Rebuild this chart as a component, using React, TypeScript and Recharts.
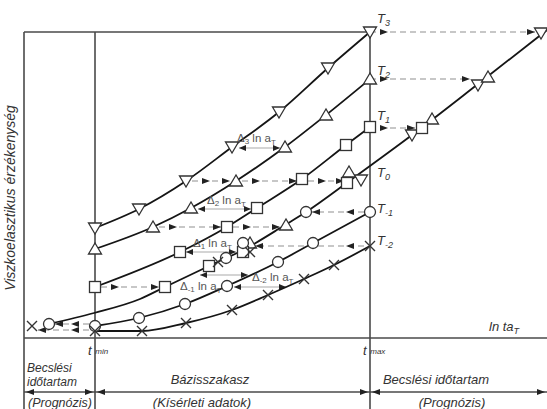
import React from "react";
import {
  ComposedChart,
  Line,
  Scatter,
  XAxis,
  YAxis,
  ReferenceLine,
  ReferenceDot,
} from "recharts";

// ln t (arbitrary units) and viscoelastic response
const tMin = 7.1;
const tMax = 34.6;

const t3X = [7.1, 11.5, 16.2, 20.8, 25.5, 30.4, 34.6];
const t3Y = [11.0, 12.9, 15.7, 19.1, 22.6, 27.0, 30.6];
const t2X = [7.1, 12.9, 16.7, 21.2, 26.1, 30.2, 34.6];
const t2Y = [8.9, 11.1, 13.0, 15.7, 19.1, 22.3, 25.9];
const t1X = [7.1, 15.6, 20.3, 23.3, 27.8, 32.2, 34.6];
const t1Y = [5.1, 8.6, 11.1, 13.0, 15.9, 19.3, 21.1];
const tm1X = [7.1, 11.5, 16.1, 20.3, 25.4, 28.9, 34.6];
const tm1Y = [1.2, 2.0, 3.4, 5.2, 7.6, 9.5, 12.6];
const tm2X = [7.1, 11.8, 16.2, 20.8, 24.4, 28.0, 31.0, 34.6];
const tm2Y = [0.7, 0.7, 1.5, 2.8, 4.3, 5.9, 7.3, 9.2];

// master curve at T0
const masterX = [2.5, 7.0, 11.6, 14.1, 18.5, 22.1, 26.1, 28.2, 32.8, 38.8, 45.4, 52.3];
const masterY = [1.4, 2.5, 3.9, 5.1, 7.2, 8.9, 11.3, 12.6, 15.9, 20.3, 25.4, 30.8];

// shifted points lying on the master curve
const shDownX = [51.7, 45.4, 38.8, 33.7];
const shDownY = [30.5, 25.3, 20.3, 15.8];
const shUpX = [46.4, 40.8, 32.5, 26.2, 22.6];
const shUpY = [26.1, 21.9, 16.6, 11.3, 9.5];
const shSqX = [39.8, 32.3, 21.9, 18.5, 14.1];
const shSqY = [21.0, 15.5, 8.6, 7.2, 5.1];
const shCircX = [28.2, 21.9, 20.2, 2.5];
const shCircY = [12.6, 9.5, 8.0, 1.4];
const shCrossX = [22.6, 19.4, 0.8];
const shCrossY = [8.6, 7.6, 1.2];

// dashed shift arrows
const shiftY = [30.6, 25.9, 21.0, 15.7, 15.7, 15.7, 11.1, 11.1, 5.1, 12.6, 9.2, 1.4, 0.8];
const shiftFrom = [34.6, 34.6, 34.6, 16.8, 21.8, 28.4, 13.5, 20.9, 7.7, 34.0, 34.0, 6.5, 6.5];
const shiftTo = [51.1, 44.6, 39.1, 20.6, 27.3, 32.0, 19.7, 25.6, 13.5, 28.8, 23.1, 3.1, 1.4];

// shift factor double arrows
const deltaSub = ["3", "2", "1", "-1", "-2"];
const deltaY = [19.0, 12.9, 8.6, 6.3, 5.1];
const deltaFrom = [21.5, 17.4, 16.2, 17.6, 21.0];
const deltaTo = [25.6, 22.7, 21.2, 22.4, 26.2];
const deltaLabelX = [21.3, 18.3, 16.9, 15.6, 22.8];
const deltaLabelY = [19.6, 13.4, 9.1, 4.8, 5.7];

const tempSub = ["3", "2", "1", "0", "-1", "-2"];
const tempLabelY = [31.5, 26.3, 21.8, 16.1, 12.5, 9.3];

const pts = (xs: number[], ys: number[]) => xs.map((x, i) => ({ x, y: ys[i] }));

const FONT = "'Liberation Sans', Arial, sans-serif";
const MK = "#333";

const downTri = (p: any) => (
  <path
    d={`M${p.cx - 6.5},${p.cy - 5} L${p.cx + 6.5},${p.cy - 5} L${p.cx},${p.cy + 6} Z`}
    fill="#fff"
    stroke={MK}
    strokeWidth={1.3}
  />
);
const upTri = (p: any) => (
  <path
    d={`M${p.cx - 6.5},${p.cy + 5} L${p.cx + 6.5},${p.cy + 5} L${p.cx},${p.cy - 6} Z`}
    fill="#fff"
    stroke={MK}
    strokeWidth={1.3}
  />
);
const square = (p: any) => (
  <rect x={p.cx - 5.5} y={p.cy - 5.5} width={11} height={11} fill="#fff" stroke={MK} strokeWidth={1.3} />
);
const circle = (p: any) => (
  <circle cx={p.cx} cy={p.cy} r={5.5} fill="#fff" stroke={MK} strokeWidth={1.3} />
);
const cross = (p: any) => (
  <path
    d={`M${p.cx - 5},${p.cy - 5} L${p.cx + 5},${p.cy + 5} M${p.cx - 5},${p.cy + 5} L${p.cx + 5},${p.cy - 5}`}
    stroke={MK}
    strokeWidth={1.4}
    fill="none"
  />
);

const head = (x: number, y: number, dir: number, key: string, len = 8) => (
  <path key={key} d={`M${x},${y} L${x - dir * len},${y - 3} L${x - dir * len},${y + 3} Z`} fill="#222" />
);

const shiftShape = (p: any) => {
  const dir = p.x2 > p.x1 ? 1 : -1;
  return (
    <g>
      <line x1={p.x1} y1={p.y1} x2={p.x2} y2={p.y1} stroke="#b5b5b5" strokeWidth={1.3} strokeDasharray="6 4" />
      {head(p.x1 + dir * 18, p.y1, dir, "a")}
      {head(p.x2, p.y1, dir, "b")}
    </g>
  );
};

const deltaShape = (p: any) => (
  <g>
    <line x1={p.x1} y1={p.y1} x2={p.x2} y2={p.y1} stroke="#aaa" strokeWidth={1.2} />
    {head(p.x1, p.y1, -1, "a", 7)}
    {head(p.x2, p.y1, 1, "b", 7)}
  </g>
);

const frameShape = (p: any) => (
  <line x1={p.x1} y1={p.y1} x2={p.x2} y2={p.y2} stroke="#4a4a4a" strokeWidth={1.6} />
);

// bottom bracket line with arrowheads at the period borders
const bottomShape = (p: any) => {
  const sx = p.x1;
  const ex = p.x2;
  const px = (v: number) => sx + (v / 52.3) * (ex - sx);
  const y = p.y1;
  return (
    <g>
      <line x1={sx} y1={y} x2={ex} y2={y} stroke="#4a4a4a" strokeWidth={1.4} />
      {head(sx + 2, y, -1, "l")}
      {head(px(tMin) - 2, y, 1, "a")}
      {head(px(tMin) + 2, y, -1, "b")}
      {head(px(tMax) - 2, y, 1, "c")}
      {head(px(tMax) + 2, y, -1, "d")}
      {head(ex - 2, y, 1, "r")}
    </g>
  );
};

const txt = (content: React.ReactNode, size = 13, anchor = "start", rotate = false) => (p: any) => (
  <text
    x={p.cx}
    y={p.cy}
    fontFamily={FONT}
    fontStyle="italic"
    fontSize={size}
    fill="#333"
    textAnchor={anchor}
    transform={rotate ? `rotate(-90 ${p.cx} ${p.cy})` : undefined}
  >
    {content}
  </text>
);

export default function App() {
  const lineProps = {
    type: "monotone" as const,
    dataKey: "y",
    stroke: "#151515",
    strokeWidth: 1.8,
    dot: false,
    isAnimationActive: false,
  };
  return (
    <div style={{ position: "absolute", left: 0, top: 0, width: 547, height: 409, background: "#fff" }}>
      <ComposedChart width={547} height={409} margin={{ top: 0, right: 0, bottom: 0, left: 0 }}>
        <XAxis type="number" dataKey="x" domain={[-2.4, 52.3]} hide allowDataOverflow />
        <YAxis type="number" dataKey="y" domain={[-7.1, 33.8]} hide allowDataOverflow />

        {/* frame */}
        <ReferenceLine ifOverflow="visible" segment={[{ x: 0, y: 30.6 }, { x: tMax, y: 30.6 }]} shape={frameShape} />
        <ReferenceLine ifOverflow="visible" segment={[{ x: 0, y: 30.6 }, { x: 0, y: -7.1 }]} shape={frameShape} />
        <ReferenceLine ifOverflow="visible" segment={[{ x: tMin, y: 30.6 }, { x: tMin, y: -7.1 }]} shape={frameShape} />
        <ReferenceLine ifOverflow="visible" segment={[{ x: tMax, y: 30.6 }, { x: tMax, y: -7.1 }]} shape={frameShape} />
        <ReferenceLine ifOverflow="visible" segment={[{ x: 0, y: 0 }, { x: 52.3, y: 0 }]} shape={frameShape} />
        <ReferenceLine ifOverflow="visible" segment={[{ x: 0, y: -5.4 }, { x: 52.3, y: -5.4 }]} shape={bottomShape} />

        {shiftY.map((y, i) => (
          <ReferenceLine
            key={"s" + i}
            ifOverflow="visible"
            segment={[{ x: shiftFrom[i], y }, { x: shiftTo[i], y }]}
            shape={shiftShape}
          />
        ))}
        {deltaY.map((y, i) => (
          <ReferenceLine
            key={"d" + i}
            ifOverflow="visible"
            segment={[{ x: deltaFrom[i], y }, { x: deltaTo[i], y }]}
            shape={deltaShape}
          />
        ))}

        <Line {...lineProps} data={pts(t3X, t3Y)} />
        <Line {...lineProps} data={pts(t2X, t2Y)} />
        <Line {...lineProps} data={pts(t1X, t1Y)} />
        <Line {...lineProps} data={pts(tm1X, tm1Y)} />
        <Line {...lineProps} data={pts(tm2X, tm2Y)} />
        <Line {...lineProps} data={pts(masterX, masterY)} />

        <Scatter data={pts(t3X, t3Y)} dataKey="y" shape={downTri} isAnimationActive={false} />
        <Scatter data={pts(t2X, t2Y)} dataKey="y" shape={upTri} isAnimationActive={false} />
        <Scatter data={pts(t1X, t1Y)} dataKey="y" shape={square} isAnimationActive={false} />
        <Scatter data={pts(tm1X, tm1Y)} dataKey="y" shape={circle} isAnimationActive={false} />
        <Scatter data={pts(tm2X, tm2Y)} dataKey="y" shape={cross} isAnimationActive={false} />
        <Scatter data={pts(shDownX, shDownY)} dataKey="y" shape={downTri} isAnimationActive={false} />
        <Scatter data={pts(shUpX, shUpY)} dataKey="y" shape={upTri} isAnimationActive={false} />
        <Scatter data={pts(shSqX, shSqY)} dataKey="y" shape={square} isAnimationActive={false} />
        <Scatter data={pts(shCircX, shCircY)} dataKey="y" shape={circle} isAnimationActive={false} />
        <Scatter data={pts(shCrossX, shCrossY)} dataKey="y" shape={cross} isAnimationActive={false} />

        {/* temperature labels */}
        {tempSub.map((s, i) => (
          <ReferenceDot
            key={"t" + i}
            x={35.3}
            y={tempLabelY[i]}
            r={0}
            ifOverflow="visible"
            shape={txt(
              <>
                T<tspan fontSize={9} dy={3}>{s}</tspan>
              </>,
              13
            )}
          />
        ))}

        {/* shift factor labels */}
        {deltaSub.map((s, i) => (
          <ReferenceDot
            key={"dl" + i}
            x={deltaLabelX[i]}
            y={deltaLabelY[i]}
            r={0}
            ifOverflow="visible"
            shape={(p: any) => (
              <text x={p.cx} y={p.cy} fontFamily={FONT} fontSize={11.5} fill="#555">
                Δ<tspan fontSize={8} dy={2}>{s}</tspan>
                <tspan dy={-2}> ln a</tspan>
                <tspan fontSize={8} dy={3}>T</tspan>
              </text>
            )}
          />
        ))}

        <ReferenceDot x={-0.9} y={14.0} r={0} ifOverflow="visible" shape={txt("Viszkoelasztikus érzékenység", 14, "middle", true)} />
        <ReferenceDot
          x={46.5}
          y={0.7}
          r={0}
          ifOverflow="visible"
          shape={txt(
            <>
              ln ta<tspan fontSize={9} dy={3}>T</tspan>
            </>,
            13
          )}
        />
        <ReferenceDot
          x={6.4}
          y={-1.7}
          r={0}
          ifOverflow="visible"
          shape={txt(
            <>
              t <tspan fontSize={8} dy={-1}>min</tspan>
            </>,
            13
          )}
        />
        <ReferenceDot
          x={33.9}
          y={-1.7}
          r={0}
          ifOverflow="visible"
          shape={txt(
            <>
              t <tspan fontSize={8} dy={-1}>max</tspan>
            </>,
            13
          )}
        />
        <ReferenceDot x={0.3} y={-3.4} r={0} ifOverflow="visible" shape={txt("Becslési", 12)} />
        <ReferenceDot x={0.3} y={-4.75} r={0} ifOverflow="visible" shape={txt("időtartam", 12)} />
        <ReferenceDot x={18.6} y={-4.6} r={0} ifOverflow="visible" shape={txt("Bázisszakasz", 13, "middle")} />
        <ReferenceDot x={41.2} y={-4.6} r={0} ifOverflow="visible" shape={txt("Becslési időtartam", 13, "middle")} />
        <ReferenceDot x={3.6} y={-6.9} r={0} ifOverflow="visible" shape={txt("(Prognózis)", 12.5, "middle")} />
        <ReferenceDot x={17.8} y={-6.9} r={0} ifOverflow="visible" shape={txt("(Kísérleti adatok)", 13, "middle")} />
        <ReferenceDot x={42.8} y={-6.9} r={0} ifOverflow="visible" shape={txt("(Prognózis)", 13, "middle")} />
      </ComposedChart>
    </div>
  );
}
